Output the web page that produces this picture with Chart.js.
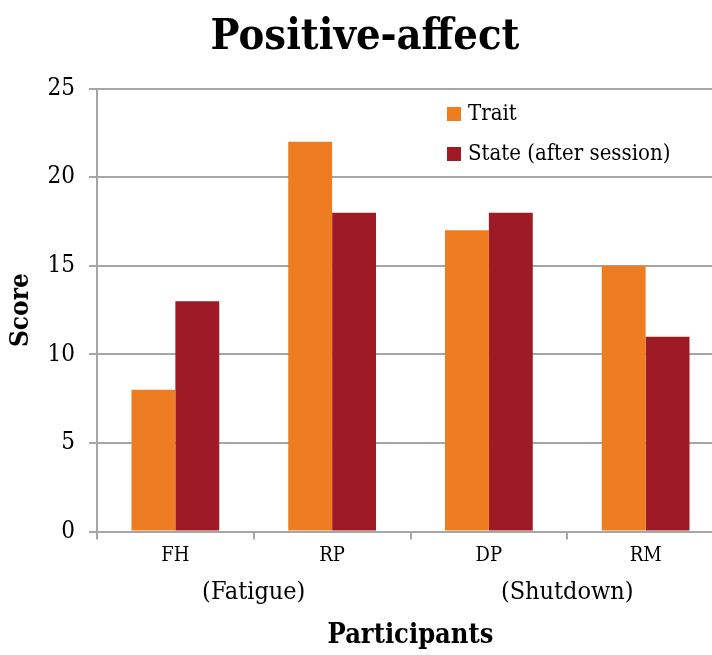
<!DOCTYPE html>
<html>
<head>
<meta charset="utf-8">
<script src="https://cdn.jsdelivr.net/npm/chart.js@4.4.1/dist/chart.umd.min.js"></script>
<style>
    html, body { margin: 0; padding: 0; background: #fff; overflow: hidden; }
    #wrap { width: 752px; height: 655px; }
</style>
</head>
<body>
<div id="wrap"><canvas id="chart" width="752" height="655"></canvas></div>
<script>
// --- Data ---
const participants = ['FH', 'RP', 'DP', 'RM'];
const traitScores = [8, 22, 17, 15];
const stateScores = [13, 18, 18, 11];
const groupLabels = ['(Fatigue)', '(Shutdown)'];
const groupBetween = [[0, 1], [2, 3]]; // label sits between these categories
const yTicks = [0, 5, 10, 15, 20, 25];

const FONT = "'DejaVu Serif Condensed', 'DejaVu Serif', serif";
const ORANGE = '#EE7D22';
const RED = '#9E1B26';
const GRID = '#A6A6A6';

// group labels under the x axis + legend inside the plot
const extrasPlugin = {
    id: 'extras',
    afterDraw(chart) {
        const ctx = chart.ctx;
        const x = chart.scales.x;
        ctx.save();
        ctx.fillStyle = '#000';
        ctx.font = '25px ' + FONT;
        ctx.textAlign = 'center';
        ctx.textBaseline = 'middle';
        groupLabels.forEach((txt, i) => {
            const [a, b] = groupBetween[i];
            const cx = (x.getPixelForValue(a) + x.getPixelForValue(b)) / 2;
            ctx.fillText(txt, cx, 592);
        });

        // legend
        const items = chart.data.datasets;
        ctx.textAlign = 'left';
        ctx.font = '22px ' + FONT;
        items.forEach((ds, i) => {
            const ly = 114 + i * 40;
            ctx.fillStyle = ds.backgroundColor;
            ctx.fillRect(447, ly - 7, 14, 14);
            ctx.fillStyle = '#000';
            ctx.fillText(ds.label, 468, ly);
        });
        ctx.restore();
    }
};

new Chart(document.getElementById('chart'), {
    type: 'bar',
    data: {
        labels: participants,
        datasets: [
            { label: 'Trait', data: traitScores, backgroundColor: ORANGE },
            { label: 'State (after session)', data: stateScores, backgroundColor: RED }
        ]
    },
    options: {
        responsive: false,
        animation: false,
        datasets: { bar: { categoryPercentage: 0.56, barPercentage: 1.0 } },
        layout: { padding: { top: 12, right: 28, bottom: 3, left: 6 } },
        plugins: {
            legend: { display: false },
            tooltip: { enabled: false },
            title: {
                display: true,
                text: 'Positive-affect',
                color: '#000',
                font: { family: FONT, size: 43, weight: 'bold' },
                padding: { top: 0, bottom: 25 }
            }
        },
        scales: {
            y: {
                min: 0,
                max: 25,
                afterBuildTicks: axis => { axis.ticks = yTicks.map(v => ({ value: v })); },
                afterFit: axis => { axis.width = 91; },
                grid: { color: GRID, lineWidth: 2, tickLength: 8, drawTicks: true },
                border: { color: GRID, width: 2 },
                ticks: { color: '#000', font: { family: FONT, size: 24 }, padding: 14 },
                title: {
                    display: true,
                    text: 'Score',
                    color: '#000',
                    font: { family: FONT, size: 26, weight: 'bold' },
                    padding: { top: 0, bottom: 0 }
                }
            },
            x: {
                grid: { display: true, drawOnChartArea: false, color: GRID, lineWidth: 2, tickLength: 8, offset: true },
                border: { color: GRID, width: 2 },
                ticks: { color: '#000', font: { family: FONT, size: 20 }, padding: 4 },
                title: {
                    display: true,
                    text: 'Participants',
                    color: '#000',
                    font: { family: FONT, size: 27, weight: 'bold' },
                    padding: { top: 48, bottom: 0 }
                }
            }
        }
    },
    plugins: [extrasPlugin]
});
</script>
</body>
</html>
